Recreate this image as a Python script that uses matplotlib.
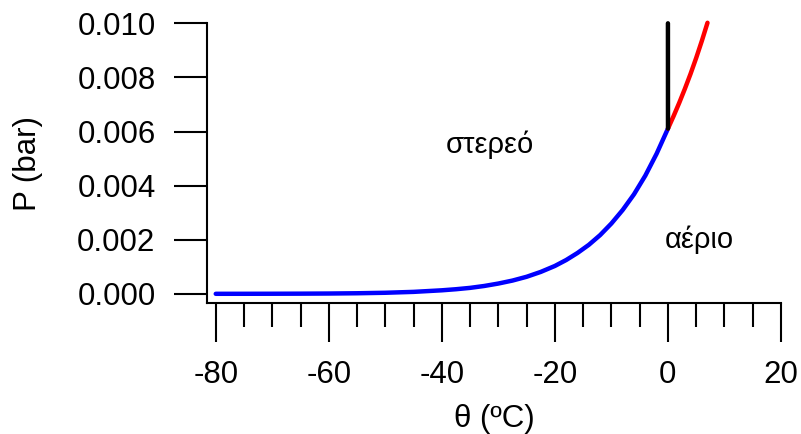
import matplotlib.pyplot as plt
from matplotlib.ticker import MultipleLocator

plt.rcParams['font.family'] = ['Liberation Sans', 'DejaVu Sans']
plt.rcParams['axes.unicode_minus'] = False

# sublimation curve (solid - gas)
theta_ice = [-80, -75, -70, -65, -60, -55, -50, -45, -40, -37.5, -35, -32.5,
             -30, -27.5, -25, -22.5, -20, -18, -16, -14, -12, -10, -8, -6,
             -4, -2, 0.01]
p_ice = [0.0000005, 0.0000012, 0.000003, 0.000006, 0.000011, 0.000021,
         0.000039, 0.000072, 0.00013, 0.00017, 0.00022, 0.00029, 0.00038,
         0.00049, 0.00063, 0.00081, 0.00103, 0.00125, 0.00151, 0.00181,
         0.00217, 0.0026, 0.0031, 0.00368, 0.00437, 0.00518, 0.00611]

# vaporisation curve (liquid - gas)
theta_liq = [0.01, 1, 2, 3, 4, 5, 6, 7]
p_liq = [0.00611, 0.00657, 0.00706, 0.00758, 0.00813, 0.00872, 0.00935, 0.01002]

# melting line
theta_melt = [0.01, 0.0]
p_melt = [0.00611, 0.0100]

fig = plt.figure(figsize=(8.01, 4.34), dpi=100)
ax = fig.add_axes([0.2584, 0.3018, 0.7166, 0.6445])

ax.plot(theta_ice, p_ice, color='blue', lw=3.2, solid_capstyle='round',
        solid_joinstyle='round', clip_on=False)
ax.plot(theta_liq, p_liq, color='red', lw=3.2, solid_capstyle='round',
        solid_joinstyle='round', clip_on=False)
ax.plot(theta_melt, p_melt, color='black', lw=3.2, solid_capstyle='round', clip_on=False)

ax.text(-31.5, 0.0055, 'στερεό', fontsize=21, ha='center', va='center')
ax.text(5.5, 0.0020, 'αέριο', fontsize=21, ha='center', va='center')

ax.set_xlim(-81.55, 20)
ax.set_ylim(-0.00034, 0.010)

ax.xaxis.set_major_locator(MultipleLocator(20))
ax.xaxis.set_minor_locator(MultipleLocator(5))
ax.set_yticks([0, 0.002, 0.004, 0.006, 0.008, 0.010])
ax.set_yticklabels(['0.000', '0.002', '0.004', '0.006', '0.008', '0.010'])

for s in ['top', 'right']:
    ax.spines[s].set_visible(False)
for s in ['left', 'bottom']:
    ax.spines[s].set_linewidth(1.5)

ax.tick_params(axis='x', which='major', length=28, width=1.5, pad=13, labelsize=22.5)
ax.tick_params(axis='x', which='minor', length=17, width=1.5)
ax.tick_params(axis='y', which='major', length=24, width=1.5, pad=13, labelsize=22.5)

ax.set_xlabel('θ (ºC)', fontsize=22.5)
ax.set_ylabel('P (bar)', fontsize=22.5)
ax.xaxis.set_label_coords(0.5, -0.362)
ax.xaxis.label.set_va('top')
ax.yaxis.set_label_coords(-0.312, 0.5)
ax.yaxis.label.set_va('center')

fig.savefig('out.png', dpi=100)
